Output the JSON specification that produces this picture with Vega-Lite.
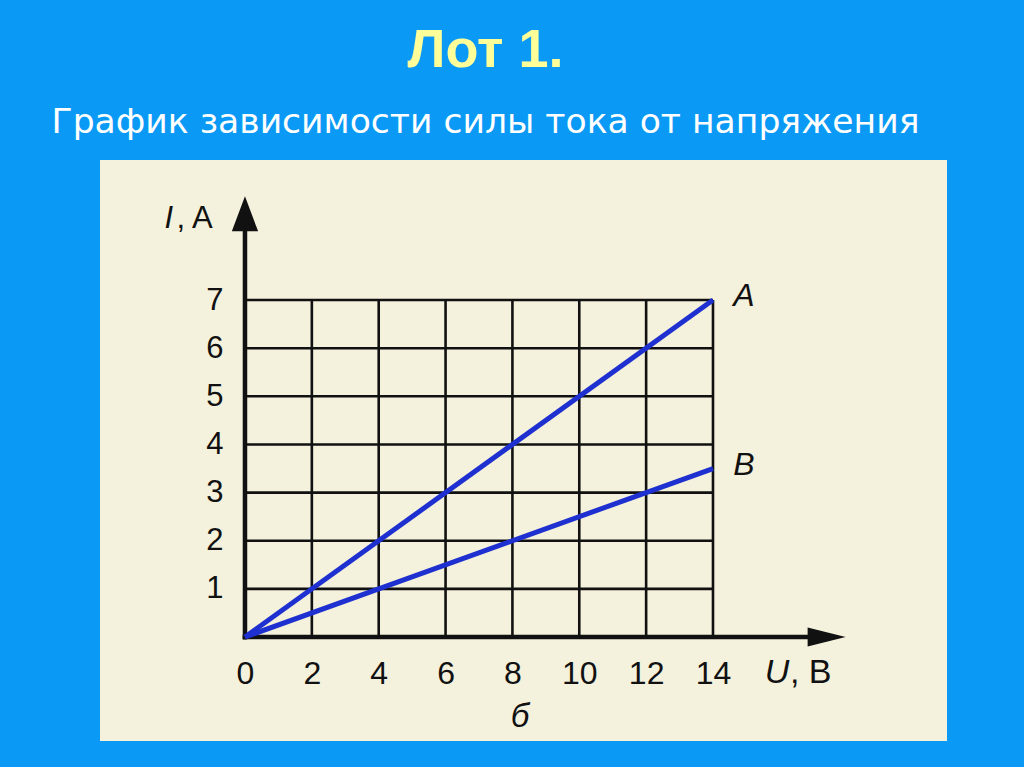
{
  "$schema": "https://vega.github.io/schema/vega-lite/v6.json",
  "autosize": {"type": "none"},
  "width": 847,
  "height": 581,
  "padding": {"left": 100, "top": 160, "right": 77, "bottom": 26},
  "background": "#0a9af6",
  "title": {
    "text": "Лот 1.",
    "subtitle": "График зависимости силы тока от напряжения",
    "anchor": "middle",
    "dx": -38,
    "offset": 20,
    "font": "Liberation Sans",
    "fontSize": 54,
    "fontWeight": "bold",
    "color": "#ffff99",
    "subtitleFont": "DejaVu Sans",
    "subtitleFontSize": 34.6,
    "subtitleColor": "#ffffff",
    "subtitlePadding": 28
  },
  "config": {
    "view": {"fill": "#f4f1dd", "stroke": null},
    "font": "Liberation Sans"
  },
  "datasets": {
    "gridx": [{"u": 2}, {"u": 4}, {"u": 6}, {"u": 8}, {"u": 10}, {"u": 12}, {"u": 14}],
    "gridy": [{"i": 1}, {"i": 2}, {"i": 3}, {"i": 4}, {"i": 5}, {"i": 6}, {"i": 7}],
    "lines": [
      {"series": "A", "u": 0, "i": 0},
      {"series": "A", "u": 14, "i": 7},
      {"series": "B", "u": 0, "i": 0},
      {"series": "B", "u": 14, "i": 3.5}
    ]
  },
  "layer": [
    {
      "data": {"name": "gridx"},
      "mark": {"type": "rule", "color": "#111111", "strokeWidth": 2.6},
      "encoding": {
        "x": {"field": "u", "type": "quantitative", "scale": {"domain": [-4.337, 21.0], "nice": false, "zero": false},
          "axis": {"orient": "bottom", "offset": -104, "values": [0, 2, 4, 6, 8, 10, 12, 14], "domain": false, "ticks": false, "grid": false, "labelFontSize": 32, "labelColor": "#111111", "labelPadding": 21, "title": null, "labelFont": "Liberation Sans"}},
        "y": {"datum": 0, "type": "quantitative", "scale": {"domain": [-2.16, 9.909], "nice": false, "zero": false},
          "axis": {"orient": "left", "offset": -145, "values": [1, 2, 3, 4, 5, 6, 7], "domain": false, "ticks": false, "grid": false, "labelFontSize": 31, "labelColor": "#111111", "labelPadding": 22, "title": null, "labelFont": "Liberation Sans"}},
        "y2": {"datum": 7}
      }
    },
    {
      "data": {"name": "gridy"},
      "mark": {"type": "rule", "color": "#111111", "strokeWidth": 2.6},
      "encoding": {
        "y": {"field": "i", "type": "quantitative"},
        "x": {"datum": 0},
        "x2": {"datum": 14}
      }
    },
    {
      "data": {"values": [{}]},
      "mark": {"type": "rule", "color": "#111111", "strokeWidth": 4.5},
      "encoding": {"x": {"datum": 0}, "y": {"datum": -0.05}, "y2": {"datum": 8.5}}
    },
    {
      "data": {"values": [{}]},
      "mark": {"type": "rule", "color": "#111111", "strokeWidth": 4.5},
      "encoding": {"y": {"datum": 0}, "x": {"datum": -0.07}, "x2": {"datum": 17}}
    },
    {
      "data": {"values": [{}]},
      "mark": {"type": "point", "shape": "M0,-1L0.75,1L-0.75,1Z", "size": 1225, "filled": true, "color": "#111111", "opacity": 1},
      "encoding": {"x": {"datum": 0}, "y": {"datum": 8.79}}
    },
    {
      "data": {"values": [{}]},
      "mark": {"type": "point", "shape": "M1,0L-1,-0.5L-1,0.5Z", "size": 1444, "filled": true, "color": "#111111", "opacity": 1},
      "encoding": {"x": {"datum": 17.4}, "y": {"datum": 0}}
    },
    {
      "data": {"name": "lines"},
      "mark": {"type": "line", "color": "#1f30d0", "strokeWidth": 5},
      "encoding": {
        "x": {"field": "u", "type": "quantitative"},
        "y": {"field": "i", "type": "quantitative"},
        "detail": {"field": "series"}
      }
    },
    {
      "data": {"name": "lines"},
      "transform": [{"filter": "datum.u == 14"}],
      "mark": {"type": "text", "fontSize": 32, "fontStyle": "italic", "color": "#111111", "dx": 31, "dy": -4, "align": "center", "baseline": "middle"},
      "encoding": {
        "x": {"field": "u", "type": "quantitative"},
        "y": {"field": "i", "type": "quantitative"},
        "text": {"field": "series"}
      }
    },
    {
      "data": {"values": [{}]},
      "mark": {"type": "text", "text": "I", "fontSize": 31, "fontStyle": "italic", "color": "#111111", "align": "right", "baseline": "alphabetic"},
      "encoding": {"x": {"datum": -2.15}, "y": {"datum": 8.5}}
    },
    {
      "data": {"values": [{}]},
      "mark": {"type": "text", "text": ", A", "fontSize": 31, "color": "#111111", "align": "left", "baseline": "alphabetic"},
      "encoding": {"x": {"datum": -2.05}, "y": {"datum": 8.5}}
    },
    {
      "data": {"values": [{}]},
      "mark": {"type": "text", "text": "U", "fontSize": 34, "fontStyle": "italic", "color": "#111111", "align": "left", "baseline": "alphabetic"},
      "encoding": {"x": {"datum": 15.55}, "y": {"datum": -0.955}}
    },
    {
      "data": {"values": [{}]},
      "mark": {"type": "text", "text": ", B", "fontSize": 34, "color": "#111111", "align": "left", "baseline": "alphabetic"},
      "encoding": {"x": {"datum": 16.3}, "y": {"datum": -0.955}}
    },
    {
      "data": {"values": [{}]},
      "mark": {"type": "text", "text": "б", "fontSize": 33, "fontStyle": "italic", "color": "#111111", "align": "center", "baseline": "alphabetic"},
      "encoding": {"x": {"datum": 8.23}, "y": {"datum": -1.87}}
    }
  ]
}
